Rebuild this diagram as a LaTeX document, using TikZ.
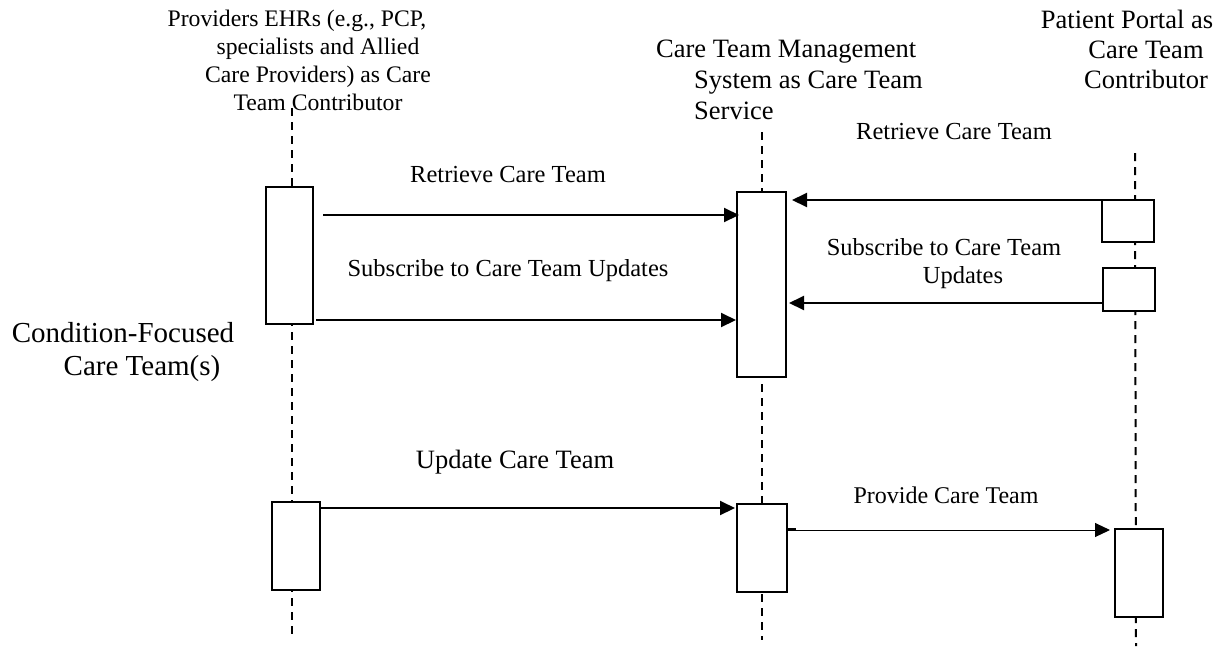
\documentclass[tikz,border=0pt]{standalone}
\usepackage{fontspec}
\setmainfont{Liberation Serif}
\usetikzlibrary{arrows.meta}
\begin{document}
\begin{tikzpicture}[x=1pt,y=-1pt,
  life/.style={line width=2pt, dash pattern=on 8pt off 6pt},
  act/.style={draw, fill=white, line width=2pt, inner sep=0pt, rectangle},
  msg/.style={line width=2pt, -{Triangle[length=15pt,width=14pt]}},
  thinmsg/.style={line width=1pt, -{Triangle[length=15pt,width=14pt]}},
  lbl/.style={font=\fontsize{24.5}{28}\selectfont, inner sep=0pt},
  hdr/.style={inner sep=0pt, font=\fontsize{26.5}{30}\selectfont},
]
\useasboundingbox (0,0) rectangle (1225,646);

% lifelines
\coordinate (L0) at (291.5,108);
\coordinate (L1) at (291.5,634);
\coordinate (M0) at (762,132);
\coordinate (M1) at (762,640);
\coordinate (R0) at (1135,153);
\coordinate (R1) at (1136,646);
\draw[life] (L0) -- (L1);
\draw[life] (M0) -- (M1);
\draw[life] (R0) -- (R1);

% activation boxes
\node[act, minimum width=47pt, minimum height=137pt] (lb1) at (289.5,255.5) {};
\node[act, minimum width=48pt, minimum height=88pt]  (lb2) at (296,546) {};
\node[act, minimum width=49pt, minimum height=185pt] (mb1) at (761.5,284.5) {};
\node[act, minimum width=50pt, minimum height=88pt]  (mb2) at (762,548) {};
\node[act, minimum width=52pt, minimum height=42pt]  (rb1) at (1128,221) {};
\node[act, minimum width=52pt, minimum height=43pt]  (rb2) at (1129,289.5) {};
\node[act, minimum width=48pt, minimum height=88pt]  (rb3) at (1139,573) {};

% message levels
\coordinate (y1) at (0,215);
\coordinate (y2) at (0,320);
\coordinate (y3) at (0,200);
\coordinate (y4) at (0,303);
\coordinate (y5) at (0,508);
\coordinate (y6) at (0,530);

\draw[msg] ([xshift=9pt]lb1.east |- y1) -- ([xshift=3pt]mb1.west |- y1);
\draw[msg] ([xshift=2pt]lb1.east |- y2) -- (mb1.west |- y2);
\draw[msg] (rb1.west |- y3) -- ([xshift=5pt]mb1.east |- y3);
\draw[msg] (rb2.west |- y4) -- ([xshift=2pt]mb1.east |- y4);
\draw[msg] (lb2.east |- y5) -- ([xshift=-1pt]mb2.west |- y5);
\draw[thinmsg] (mb2.east |- y6) -- ([xshift=-4pt]rb3.west |- y6);
\draw[line width=1.6pt] ([yshift=1pt]mb2.east |- y6) -- ++(8,0) coordinate (stub);

% message labels
\node[lbl, anchor=base] (t1) at (508,182) {Retrieve Care Team};
\node[lbl, anchor=base] (t2) at (508,276) {Subscribe to Care Team Updates};
\node[lbl, anchor=base] (t3) at (954,139) {Retrieve Care Team};
\node[lbl, anchor=north, align=center] (t4) at (963,238.5) {Subscribe to Care Team\hspace*{38pt}\\Updates};
\node[lbl, anchor=base, font=\fontsize{26.5}{30}\selectfont] (t5) at (515,468) {Update Care Team};
\node[lbl, anchor=base, font=\fontsize{24}{28}\selectfont] (t6) at (946,503) {Provide Care Team};

% headers
\node[hdr, anchor=north, align=center, font=\fontsize{23.7}{28}\selectfont] (h1) at (318,9.6)
  {Providers EHRs (e.g., PCP,\hspace*{42pt}\\specialists and Allied\\Care Providers) as Care\\Team Contributor};
\node[hdr, anchor=north west, align=left, font=\fontsize{26.5}{31}\selectfont] (h2) at (656,40)
  {Care Team Management\\\hspace*{38pt}System as Care Team\\\hspace*{38pt}Service};
\node[hdr, anchor=north, align=center, font=\fontsize{26.5}{30}\selectfont] (h3) at (1146,10)
  {Patient Portal as\hspace*{38pt}\\Care Team\\Contributor};
\node[hdr, anchor=north, align=center, font=\fontsize{29}{33}\selectfont] (h4) at (142,322)
  {Condition-Focused\hspace*{38pt}\\Care Team(s)};
\end{tikzpicture}
\end{document}
